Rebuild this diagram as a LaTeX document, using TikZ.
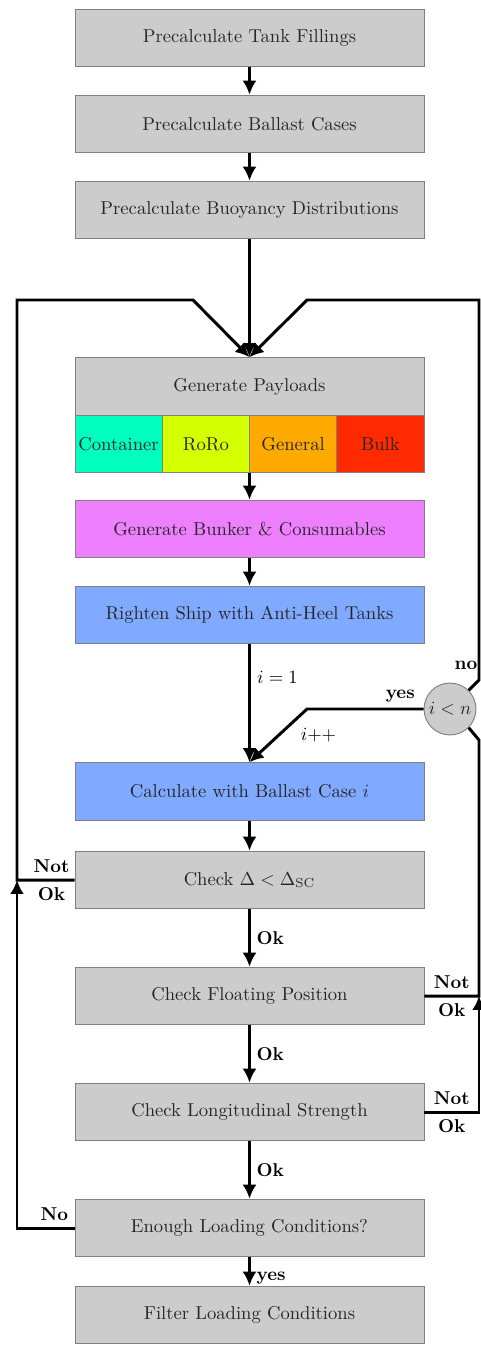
\documentclass[tikz,border=0pt]{standalone}
\usepackage{amsmath}
\usetikzlibrary{arrows.meta}
\definecolor{contcol}{RGB}{0,255,191}
\definecolor{rorocol}{RGB}{212,255,0}
\definecolor{gencol}{RGB}{255,170,0}
\definecolor{bulkcol}{RGB}{255,42,0}
\definecolor{bunkcol}{RGB}{238,128,255}
\definecolor{shipcol}{RGB}{128,170,255}
\begin{document}
\begin{tikzpicture}[x=0.537pt,y=-0.537pt,>={Latex[length=7.5pt,width=7.5pt]},
  box/.style={draw=gray,line width=0.5pt,fill=gray!40,text=black!85,minimum width=187.4pt,minimum height=31pt,inner sep=0pt},
  cargo/.style={box,minimum width=46.85pt},
  flow/.style={line width=1.6pt},
  lbl/.style={font=\bfseries,inner sep=3pt}]
\useasboundingbox (0,0) rectangle (481,1369);
\node[box] (tank) at (249.5,38) {Precalculate Tank Fillings};
\node[box] (ballast) at (249.5,124) {Precalculate Ballast Cases};
\node[box] (buoy) at (249.5,210) {Precalculate Buoyancy Distributions};
\node[box] (pay) at (249.5,386.5) {Generate Payloads};
\node[cargo,fill=contcol] (cont) at (118.6,444) {Container};
\node[cargo,fill=rorocol] (roro) at (205.9,444) {RoRo};
\node[cargo,fill=gencol] (gen) at (293.1,444) {General};
\node[cargo,fill=bulkcol] (bulk) at (380.4,444) {Bulk};
\node[box,fill=bunkcol] (bunker) at (249.5,529) {Generate Bunker \& Consumables};
\node[box,fill=shipcol] (righten) at (249.5,615) {Righten Ship with Anti-Heel Tanks};
\node[box,fill=shipcol] (calc) at (249.5,791.5) {Calculate with Ballast Case $i$};
\node[box] (chkdisp) at (249.5,880) {Check $\Delta<\Delta_{\mathrm{SC}}$};
\node[box] (chkfloat) at (249.5,996) {Check Floating Position};
\node[box] (chklong) at (249.5,1112) {Check Longitudinal Strength};
\node[box] (enough) at (249.5,1228) {Enough Loading Conditions?};
\node[box] (filter) at (249.5,1315) {Filter Loading Conditions};
\node[circle,draw=gray,line width=0.5pt,fill=gray!40,text=black!85,minimum size=27.9pt,inner sep=0pt] (cmp) at (450,709) {$i<n$};
% corners of the loops
\coordinate (lbend) at (193,300);
\coordinate (ltop) at (17,300);
\coordinate (ldisp) at (17,880);
\coordinate (lenough) at (17,1228);
\coordinate (rbend) at (307,300);
\coordinate (rtop) at (479,300);
\coordinate (rno) at (479,680);
\coordinate (rup) at (479,740);
\coordinate (rfloat) at (479,996);
\coordinate (rlong) at (479,1112);
\coordinate (ybend) at (307,709);
% main line
\draw[flow,->] (tank) -- (ballast);
\draw[flow,->] (ballast) -- (buoy);
\draw[flow,->] (buoy) -- (pay);
\draw[flow,->] (pay.south |- gen.south) -- (bunker);
\draw[flow,->] (bunker) -- (righten);
\draw[flow,->] (righten) -- node[right,pos=0.28]{$i=1$} (calc);
\draw[flow,->] (calc) -- (chkdisp);
\draw[flow,->] (chkdisp) -- node[lbl,right]{Ok} (chkfloat);
\draw[flow,->] (chkfloat) -- node[lbl,right]{Ok} (chklong);
\draw[flow,->] (chklong) -- node[lbl,right]{Ok} (enough);
\draw[flow,->] (enough) -- node[lbl,right,pos=0.75]{yes} (filter);
% left loop
\draw[flow,->] (chkdisp.west) -- node[lbl,above,pos=0.4]{Not} node[lbl,below,pos=0.4]{Ok} (ldisp) -- (ltop) -- (lbend) -- (pay.north);
\draw[flow,->] (enough.west) -- node[lbl,above,pos=0.35]{No} (lenough) -- (ldisp);
% right loop
\draw[flow] (chkfloat.east) -- node[lbl,above]{Not} node[lbl,below]{Ok} (rfloat) -- (rup) -- (cmp.south east);
\draw[flow,->] (chklong.east) -- node[lbl,above]{Not} node[lbl,below]{Ok} (rlong) -- (rfloat);
\draw[flow,->] (cmp.north east) -- node[lbl,above,pos=0.1,yshift=7pt,xshift=-2pt]{no} (rno) -- (rtop) -- (rbend) -- (pay.north);
\draw[flow,->] (cmp.west) -- node[lbl,above,pos=0.2]{yes} (ybend) -- node[right,xshift=8pt]{$i{+}{+}$} (calc.north);
\end{tikzpicture}
\end{document}
